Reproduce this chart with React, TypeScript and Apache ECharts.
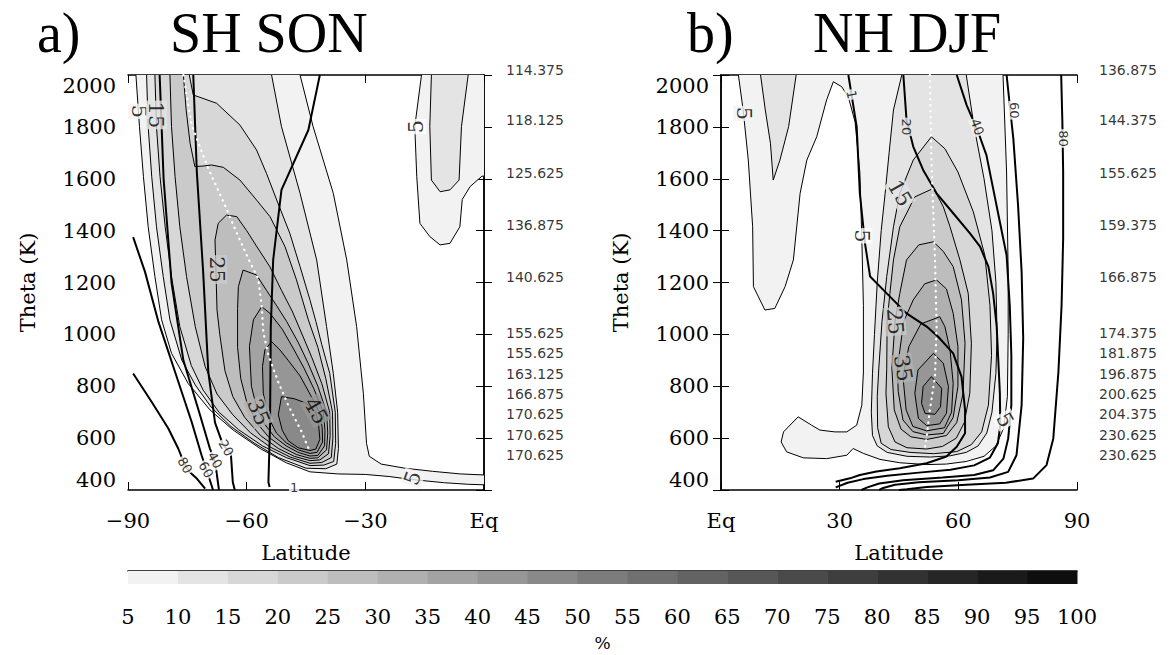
import React, { useEffect, useRef } from "react";
import * as echarts from "echarts";

// ---------------- DATA ----------------
const colorbarLevels = [5, 10, 15, 20, 25, 30, 35, 40, 45, 50, 55, 60, 65, 70, 75, 80, 85, 90, 95, 100];

const rightLabelTheta = [2019, 1827, 1622, 1422, 1221, 1005, 928, 847, 770, 693, 612, 535];
const rightLabelsA = ["114.375", "118.125", "125.625", "136.875", "140.625", "155.625", "155.625", "163.125", "166.875", "170.625", "170.625", "170.625"];
const rightLabelsB = ["136.875", "144.375", "155.625", "159.375", "166.875", "174.375", "181.875", "196.875", "200.625", "204.375", "230.625", "230.625"];

// Panel a (SH SON) filled contours: [latitude, theta]
const a5 = [[-88, 2100], [-88, 2000], [-87.1, 1801], [-86.1, 1608], [-84.9, 1415], [-83.2, 1223], [-81.5, 1056], [-79, 927], [-74.8, 811], [-69.3, 709], [-63.4, 631], [-56.6, 560], [-50, 505], [-44, 470], [-37, 462], [-30, 460], [-24, 452], [-18, 440], [-10, 428], [-4, 422], [0, 420], [3, 420], [3, 458], [0, 458], [-6, 462], [-13, 472], [-20, 484], [-26, 500], [-29, 530], [-29.7, 580], [-30.5, 773], [-32.2, 1030], [-34.7, 1287], [-38.1, 1544], [-43.2, 1801], [-46.5, 2000], [-46.5, 2100]];
const a10 = [[-85.3, 2100], [-85.3, 2000], [-84.9, 1801], [-84, 1608], [-82.8, 1415], [-81.1, 1223], [-79.4, 1056], [-76.4, 901], [-73, 805], [-69, 720], [-64, 645], [-58, 580], [-52, 525], [-45, 484], [-40, 482], [-37.2, 500], [-36.8, 560], [-37, 700], [-38.1, 850], [-39.8, 1030], [-42.3, 1287], [-46.5, 1544], [-51.2, 1801], [-53.7, 2000], [-53.7, 2100]];
const a15 = [[-83.2, 2100], [-83.2, 2000], [-82.8, 1801], [-81.9, 1608], [-80.6, 1415], [-79, 1223], [-76.9, 1030], [-74, 880], [-71, 785], [-67, 700], [-62, 632], [-56, 570], [-50, 525], [-44, 494], [-40.5, 496], [-38, 510], [-37.5, 580], [-37.6, 700], [-39, 850], [-41, 960], [-42.5, 1050], [-44, 1133], [-46.5, 1261], [-49.1, 1390], [-52.4, 1518], [-55, 1621], [-57.5, 1711], [-61.7, 1807], [-67.6, 1891], [-73.5, 1923], [-74.5, 2000], [-74.5, 2100]];
const a20 = [[-79.4, 2100], [-79.4, 2000], [-79, 1801], [-78.1, 1608], [-76.9, 1415], [-75.2, 1223], [-73, 1030], [-70.5, 876], [-67.5, 770], [-63.5, 690], [-59, 620], [-54, 565], [-49, 527], [-44, 503], [-41, 506], [-38.6, 525], [-38.2, 600], [-38.3, 700], [-40, 830], [-42, 950], [-44.4, 1056], [-47.4, 1210], [-50.3, 1338], [-54.1, 1454], [-57.5, 1518], [-61.7, 1595], [-65.9, 1644], [-68.9, 1653], [-71, 1649], [-73.1, 1647], [-74.3, 1737], [-75.3, 1865], [-76, 2000], [-76, 2100]];
const a25 = [[-67.2, 1428], [-68, 1364], [-67.8, 1261], [-67.5, 1094], [-66.8, 1000], [-65.5, 860], [-63.5, 760], [-60.5, 680], [-56.5, 610], [-52, 560], [-48, 530], [-44, 513], [-41.5, 516], [-39.3, 540], [-38.9, 610], [-39, 700], [-41, 810], [-43.5, 910], [-45.7, 990], [-48.5, 1090], [-51.2, 1170], [-54.1, 1260], [-57.5, 1340], [-60, 1400], [-62.5, 1454], [-65.1, 1460]];
const a30 = [[-62.1, 1184], [-62.3, 1100], [-62.3, 950], [-61.5, 830], [-60, 740], [-57.5, 660], [-54.5, 605], [-51, 565], [-47.5, 537], [-44, 522], [-42, 524], [-39.8, 555], [-39.5, 620], [-39.8, 700], [-42, 800], [-44.5, 890], [-47, 970], [-49.9, 1050], [-52.4, 1110], [-55, 1170], [-57.5, 1229], [-60.9, 1248]];
const a35 = [[-58.3, 1056], [-59.3, 953], [-58.8, 800], [-57.5, 720], [-55.5, 655], [-53, 605], [-50, 570], [-47, 545], [-44, 531], [-42, 533], [-40.3, 570], [-40.2, 630], [-40.6, 700], [-43, 790], [-45.5, 870], [-48, 940], [-51, 1020], [-54.1, 1081], [-56.2, 1107]];
const a40 = [[-55.4, 940], [-56, 876], [-55.8, 773], [-54.5, 680], [-52.5, 620], [-50, 582], [-47, 555], [-44, 541], [-42.2, 545], [-40.8, 585], [-40.9, 640], [-41.6, 700], [-44, 770], [-46.5, 840], [-49.5, 900], [-51.6, 940], [-53.7, 972]];
const a45 = [[-52, 690], [-51, 630], [-49.5, 590], [-47, 563], [-44, 552], [-42.5, 558], [-41.5, 595], [-41.8, 650], [-42.5, 700], [-45, 735], [-48, 752], [-51.2, 760]];
const a5blob = [[-16, 2100], [-15.8, 2000], [-17.5, 1801], [-17, 1608], [-16.2, 1428], [-13.7, 1377], [-11.1, 1345], [-8.6, 1351], [-6.1, 1415], [-5.5, 1520], [-3.5, 1570], [-0.5, 1610], [1, 1610], [1, 2100]];
const a10blob = [[-13.3, 2100], [-13.3, 2000], [-13.7, 1801], [-13.3, 1595], [-11.1, 1550], [-8.6, 1557], [-6.3, 1595], [-5.7, 1801], [-4, 2000], [-4, 2100]];

// Panel a thick contours
const aThick1 = [[-41.5, 2000], [-44.4, 1788], [-51.2, 1557], [-53.3, 1287], [-53.9, 1030], [-54.1, 644], [-54.5, 430], [-54.2, 412]];
const aThick20 = [[-73.5, 2000], [-72.6, 1626], [-71, 1241], [-69.7, 855], [-68, 660], [-66, 575], [-64, 540], [-63.5, 430], [-63, 400]];
const aThick40 = [[-82, 2000], [-81, 1600], [-79, 1200], [-76, 900], [-72, 700], [-69.3, 560], [-68, 510], [-67, 400]];
const aThick60 = [[-88.7, 1375], [-85.7, 1241], [-82.3, 1048], [-78.1, 855], [-73.9, 662], [-71.4, 534], [-70.2, 480], [-68.5, 400]];
const aThick80 = [[-88.7, 849], [-84, 739], [-79.8, 637], [-77.3, 560], [-76, 510], [-74.5, 470], [-72.6, 444], [-70.5, 405]];
const aDotted = [[-76, 2000], [-73.9, 1806], [-69.7, 1639], [-65.5, 1498], [-63, 1408], [-59.6, 1292], [-57.1, 1215], [-56.2, 1112], [-55.8, 1009], [-54.5, 919], [-52, 816], [-49.5, 727], [-46.1, 624], [-44, 547]];

// Panel b (NH DJF) filled contours
const b5 = [[4.4, 2100], [4.4, 2000], [5.6, 1865], [6.9, 1672], [8, 1415], [8.2, 1184], [11.1, 1094], [13.6, 1100], [16.2, 1184], [18.3, 1287], [20, 1544], [21.7, 1672], [24.2, 1762], [26.7, 1904], [28.4, 1974], [30.5, 1955], [32.2, 1915], [33.9, 1819], [35.1, 1626], [35.6, 1369], [36, 1112], [36, 855], [35.6, 727], [34.3, 650], [31.8, 624], [28.8, 624], [25, 631], [22.9, 650], [19.5, 682], [15.8, 624], [15.2, 585], [16.6, 547], [20.8, 524], [26.7, 521], [31.8, 534], [33.4, 560], [36, 541], [40.2, 518], [45.2, 505], [52, 498], [57, 500], [62, 510], [66.5, 530], [69.5, 570], [71.5, 640], [72.4, 760], [72.6, 1000], [72.6, 1241], [72.2, 1626], [71.3, 2000], [71.3, 2100]];
const b10blob = [[10, 2100], [10, 2000], [11.2, 1865], [12.5, 1737], [13.2, 1595], [14.9, 1672], [17.1, 1801], [19, 2000], [19, 2100]];
const b10 = [[45.7, 2100], [45.7, 2000], [43.6, 1865], [42.5, 1700], [41.5, 1544], [40.5, 1400], [39.5, 1200], [38.8, 1000], [38.3, 850], [38, 700], [38.3, 610], [39.5, 570], [42, 545], [47, 530], [53, 527], [58, 532], [62, 545], [65, 570], [67.2, 620], [68.5, 700], [69.5, 850], [69.8, 1000], [69.5, 1200], [68.5, 1400], [66.5, 1600], [64, 1800], [62, 2000], [62, 2100]];
const b15 = [[53.2, 1762], [56.6, 1716], [59.9, 1626], [63.8, 1472], [66.7, 1305], [68, 1112], [68.4, 919], [67.6, 727], [65.9, 624], [63.3, 575], [59.6, 548], [53.7, 540], [47.8, 545], [43, 556], [40.5, 580], [39.6, 640], [39.5, 760], [39.9, 870], [40.7, 1050], [41.9, 1223], [43.6, 1415], [45.2, 1544], [48.6, 1672]];
const b20 = [[53.7, 1563], [56.2, 1492], [57.9, 1415], [60.4, 1287], [62.5, 1158], [63.3, 966], [62.9, 773], [61.5, 660], [59.5, 600], [56, 568], [52, 558], [47, 563], [44, 585], [42.3, 644], [41.7, 773], [41.9, 870], [42, 1050], [42.7, 1158], [43.6, 1287], [45.2, 1415], [49, 1530]];
const b25 = [[53.7, 1357], [56.2, 1320], [58.7, 1261], [60.8, 1133], [61.7, 966], [61.2, 773], [59.6, 660], [57, 610], [52, 595], [48, 605], [45.5, 635], [43.8, 709], [43.2, 870], [44, 1050], [45.2, 1158], [46.9, 1287], [50, 1345]];
const b30 = [[54.5, 1210], [57, 1175], [58.7, 1081], [59.9, 953], [59.9, 799], [58.7, 680], [56.2, 618], [52, 612], [48.5, 625], [46, 670], [44.8, 780], [44.6, 870], [46.2, 1050], [48.6, 1133], [51.5, 1195]];
const b35 = [[55.3, 1068], [56.6, 1030], [57.9, 940], [58.7, 811], [58.3, 700], [56.5, 640], [52, 628], [48.5, 645], [46.8, 709], [46, 837], [47.5, 953], [50.5, 1040]];
const b40 = [[53.7, 927], [56.2, 889], [57.5, 799], [57, 696], [55.3, 655], [52, 648], [49.9, 676], [49, 773], [49.8, 863]];
const b45 = [[53.2, 837], [55.8, 792], [55.5, 721], [54.1, 692], [51.6, 695], [50.7, 734], [51.1, 799]];

// Panel b thick contours
const bThick1 = [[32.2, 2000], [34.3, 1801], [35.1, 1544], [36.4, 1351], [37.7, 1223], [41.9, 1158], [46.9, 1081], [52, 1030], [54.9, 991], [58.7, 927], [60.8, 837], [61.7, 709], [61.7, 619], [59.6, 567], [57, 529], [52, 503], [45.2, 484], [39.3, 471], [35.1, 458], [32.6, 445], [29, 432]];
const bThick20 = [[46.1, 2000], [46.9, 1827], [48.6, 1724], [51.1, 1634], [54.5, 1544], [58.7, 1467], [62.9, 1390], [65.5, 1338], [67.6, 1261], [68.8, 1158], [69.7, 1030], [70.1, 901], [70.5, 773], [70.6, 650], [70, 580], [68, 525], [64, 495], [58, 478], [50, 467], [42, 455], [36, 442], [32, 428], [29, 410]];
const bThick40 = [[59.6, 2000], [62.1, 1884], [65, 1781], [67.1, 1691], [68.8, 1562], [70.5, 1433], [72.2, 1305], [73, 1112], [73.4, 920], [73.4, 727], [72.6, 598], [71.4, 521], [68.8, 476], [64, 458], [56, 448], [46, 438], [40, 425], [37, 410], [35.5, 400]];
const bThick60 = [[72.2, 2000], [73.9, 1755], [75.1, 1498], [76, 1241], [76.4, 984], [76, 727], [74.7, 534], [72.6, 470], [68, 448], [60, 438], [50, 430], [44, 420], [41, 408], [40, 400]];
const bThick80 = [[86, 2000], [86.3, 1819], [86.5, 1626], [86.5, 1369], [86.1, 1112], [85.3, 855], [84, 598], [82.3, 496], [78.9, 444], [72, 428], [62, 420], [52, 412], [47, 403], [45, 400]];
const bDotted = [[52.8, 2000], [53.2, 1672], [54.1, 1287], [54.5, 1030], [54.1, 837], [52.8, 709], [52, 606], [51.5, 560]];

// contour labels: [lat, theta, text, level of the band behind it]
const thinLabelsA = [[-87.3, 1860, "5", 5], [-82.8, 1846, "15", 10], [-67.6, 1250, "25", 20], [-57, 700, "35", 30], [-42.5, 705, "45", 40], [-17.3, 1801, "5", 0], [-18, 446, "5", 5]];
const thickLabelsA = [[-75.6, 495, "80", 0], [-70.3, 478, "60", 0], [-68, 515, "40", 0], [-65.2, 562, "20", 0], [-48, 410, "1", 0]];
const thinLabelsB = [[5.8, 1852, "5", 5], [35.6, 1380, "5", 0], [45.2, 1544, "15", 10], [44, 1050, "25", 20], [46, 870, "35", 30], [71.8, 670, "5", 0]];
const thickLabelsB = [[33, 1925, "1", 5], [46.8, 1800, "20", 10], [64.8, 1800, "40", 5], [74.3, 1864, "60", 0], [86.5, 1755, "80", 0]];

// ---------------- STYLE ----------------
const shades = ["#f2f2f2", "#e4e4e4", "#d7d7d7", "#cacaca", "#bdbdbd", "#b0b0b0", "#a3a3a3", "#969696", "#898989", "#7c7c7c", "#707070", "#636363", "#575757", "#4a4a4a", "#3e3e3e", "#323232", "#262626", "#1a1a1a", "#0e0e0e"];
const shadeOf = (lvl: number) => (lvl <= 0 ? "#ffffff" : shades[lvl / 5 - 1]);

const thinRotA = [-90, -90, -90, -68, -60, 90, 70];
const thickRotA = [-60, -60, -60, -60, 0];
const thinRotB = [-90, -90, -60, -85, -80, -60];
const thickRotB = [-80, -90, -70, -90, -90];

const SERIF = "'DejaVu Serif', serif";
const SANS = "'DejaVu Sans', sans-serif";
const TITLE = "'Liberation Serif', serif";

const contoursA = [
  { level: 5, pts: a5 }, { level: 5, pts: a5blob }, { level: 10, pts: a10blob },
  { level: 10, pts: a10 }, { level: 15, pts: a15 }, { level: 20, pts: a20 }, { level: 25, pts: a25 },
  { level: 30, pts: a30 }, { level: 35, pts: a35 }, { level: 40, pts: a40 }, { level: 45, pts: a45 },
];
const contoursB = [
  { level: 5, pts: b5 }, { level: 10, pts: b10blob },
  { level: 10, pts: b10 }, { level: 15, pts: b15 }, { level: 20, pts: b20 }, { level: 25, pts: b25 },
  { level: 30, pts: b30 }, { level: 35, pts: b35 }, { level: 40, pts: b40 }, { level: 45, pts: b45 },
];

function contourSeries(polys: { level: number; pts: number[][] }[], xi: number, yi: number) {
  return {
    type: "custom", xAxisIndex: xi, yAxisIndex: yi, clip: true, silent: true, z: 1,
    data: polys.map((_, i) => i),
    renderItem: (params: any, api: any) => {
      const p = polys[params.dataIndex];
      const pts = p.pts.map((v) => api.coord([v[0], v[1]]));
      return { type: "polygon", shape: { points: pts }, style: { fill: shadeOf(p.level), stroke: "#000", lineWidth: 1 } };
    },
  };
}

function lineSeries(data: number[][], xi: number, yi: number, thick = true) {
  return {
    type: "line", xAxisIndex: xi, yAxisIndex: yi, data, symbol: "none", silent: true, z: 3,
    lineStyle: thick ? { color: "#000", width: 2 } : { color: "#ffffff", width: 2.2, type: [0.5, 5.5], cap: "round" },
  };
}

function labelSeries(list: any[], rots: number[], xi: number, yi: number, size: number, family: string) {
  return {
    type: "scatter", xAxisIndex: xi, yAxisIndex: yi, symbolSize: 0, silent: true, clip: false, z: 10,
    data: list.map((l, i) => ({ value: [l[0], l[1]], name: l[2], label: { rotate: rots[i], backgroundColor: shadeOf(l[3]) } })),
    label: { show: true, position: "inside", formatter: (p: any) => p.name, color: "#000", fontFamily: family, fontSize: size, padding: [0, 1], lineHeight: size },
  };
}

function rightLabelSeries(texts: string[], x: number, xi: number, yi: number) {
  return {
    type: "scatter", xAxisIndex: xi, yAxisIndex: yi, symbolSize: 0, silent: true, clip: false, z: 10,
    data: texts.map((t, i) => ({ value: [x, rightLabelTheta[i]], name: t })),
    label: { show: true, position: "right", distance: 22, formatter: (p: any) => p.name, color: "#000", fontFamily: SANS, fontSize: 14 },
  };
}

const latFmt = (v: number) => (v === 0 ? "Eq" : v < 0 ? "\u2212" + Math.abs(v) : String(v));
const plainFmt = (v: number) => String(v);

function xAxes(grid: number, min: number, max: number) {
  const tick = { inside: true, length: 8, lineStyle: { color: "#000", width: 1 } };
  const line = { show: true, lineStyle: { color: "#000", width: 1.5 } };
  return [
    {
      gridIndex: grid, type: "value", min, max, interval: 30, position: "bottom",
      axisLine: line, axisTick: tick, splitLine: { show: false },
      axisLabel: { formatter: latFmt, color: "#000", fontFamily: SERIF, fontSize: 21, margin: 20 },
      name: "Latitude", nameLocation: "middle", nameGap: 52,
      nameTextStyle: { color: "#000", fontFamily: SERIF, fontSize: 21 },
    },
    {
      gridIndex: grid, type: "value", min, max, interval: 30, position: "top",
      axisLine: line, axisTick: tick, splitLine: { show: false }, axisLabel: { show: false },
    },
  ];
}

function yAxes(grid: number) {
  const tick = { inside: true, length: 8, lineStyle: { color: "#000", width: 1 } };
  const line = { show: true, lineStyle: { color: "#000", width: 1.5 } };
  return [
    {
      gridIndex: grid, type: "value", min: 400, max: 2000, interval: 200, position: "left",
      axisLine: line, axisTick: tick, splitLine: { show: false },
      axisLabel: { formatter: plainFmt, color: "#000", fontFamily: SERIF, fontSize: 21, margin: 12, verticalAlignMaxLabel: "top", verticalAlignMinLabel: "bottom" },
      name: "Theta (K)", nameLocation: "middle", nameGap: 90, nameRotate: 90,
      nameTextStyle: { color: "#000", fontFamily: SERIF, fontSize: 21 },
    },
    {
      gridIndex: grid, type: "value", min: 400, max: 2000, interval: 200, position: "right",
      axisLine: line, axisTick: tick, splitLine: { show: false }, axisLabel: { show: false },
    },
  ];
}

function buildOption(): any {
  const titleStyle = { fontFamily: TITLE, fontSize: 56, fontWeight: "normal", color: "#000" };
  return {
    animation: false,
    backgroundColor: "#ffffff",
    title: [
      { text: "a)", left: 32, top: 0, textStyle: titleStyle },
      { text: "SH SON", left: 165, top: 0, textStyle: titleStyle },
      { text: "b)", left: 682, top: 0, textStyle: titleStyle },
      { text: "NH DJF", left: 808, top: 0, textStyle: titleStyle },
    ],
    grid: [
      { left: 128, top: 75, width: 356, height: 415 },
      { left: 721, top: 75, width: 356, height: 415 },
      { left: 128, top: 571, width: 949, height: 13 },
    ],
    xAxis: [
      ...xAxes(0, -90, 0),
      ...xAxes(1, 0, 90),
      {
        gridIndex: 2, type: "value", min: 5, max: 100, interval: 5, position: "bottom",
        axisLine: { show: false }, axisTick: { show: false }, splitLine: { show: false },
        axisLabel: { formatter: plainFmt, color: "#000", fontFamily: SERIF, fontSize: 21, margin: 22 },
        name: "%", nameLocation: "middle", nameGap: 50, nameTextStyle: { color: "#000", fontFamily: SERIF, fontSize: 17 },
      },
      {
        gridIndex: 2, type: "value", min: 5, max: 100, position: "top",
        axisLine: { show: true, lineStyle: { color: "#000", width: 1.5 } }, axisTick: { show: false },
        axisLabel: { show: false }, splitLine: { show: false },
      },
    ],
    yAxis: [
      ...yAxes(0),
      ...yAxes(1),
      { gridIndex: 2, type: "value", min: 0, max: 1, show: false },
    ],
    series: [
      contourSeries(contoursA, 0, 0),
      lineSeries(aThick1, 0, 0), lineSeries(aThick20, 0, 0), lineSeries(aThick40, 0, 0),
      lineSeries(aThick60, 0, 0), lineSeries(aThick80, 0, 0),
      lineSeries(aDotted, 0, 0, false),
      labelSeries(thinLabelsA, thinRotA, 0, 0, 21, SERIF),
      labelSeries(thickLabelsA, thickRotA, 0, 0, 13, SANS),
      rightLabelSeries(rightLabelsA, 0, 0, 0),

      contourSeries(contoursB, 2, 2),
      lineSeries(bThick1, 2, 2), lineSeries(bThick20, 2, 2), lineSeries(bThick40, 2, 2),
      lineSeries(bThick60, 2, 2), lineSeries(bThick80, 2, 2),
      lineSeries(bDotted, 2, 2, false),
      labelSeries(thinLabelsB, thinRotB, 2, 2, 21, SERIF),
      labelSeries(thickLabelsB, thickRotB, 2, 2, 13, SANS),
      rightLabelSeries(rightLabelsB, 90, 2, 2),

      {
        type: "custom", xAxisIndex: 4, yAxisIndex: 4, silent: true,
        data: colorbarLevels.slice(0, -1).map((v, i) => [v, colorbarLevels[i + 1]]),
        renderItem: (params: any, api: any) => {
          const p0 = api.coord([api.value(0), 1]);
          const p1 = api.coord([api.value(1), 0]);
          return {
            type: "rect",
            shape: { x: p0[0], y: p0[1], width: p1[0] - p0[0] + 0.5, height: p1[1] - p0[1] },
            style: { fill: shades[params.dataIndex] },
          };
        },
      },
    ],
  };
}

export default function App() {
  const ref = useRef<HTMLDivElement>(null);
  useEffect(() => {
    const chart = echarts.init(ref.current as HTMLDivElement, null, { renderer: "svg" });
    chart.setOption(buildOption());
    return () => chart.dispose();
  }, []);
  return (
    <div
      ref={ref}
      style={{ position: "absolute", left: 0, top: 0, width: 1171, height: 655, background: "#ffffff" }}
    />
  );
}
